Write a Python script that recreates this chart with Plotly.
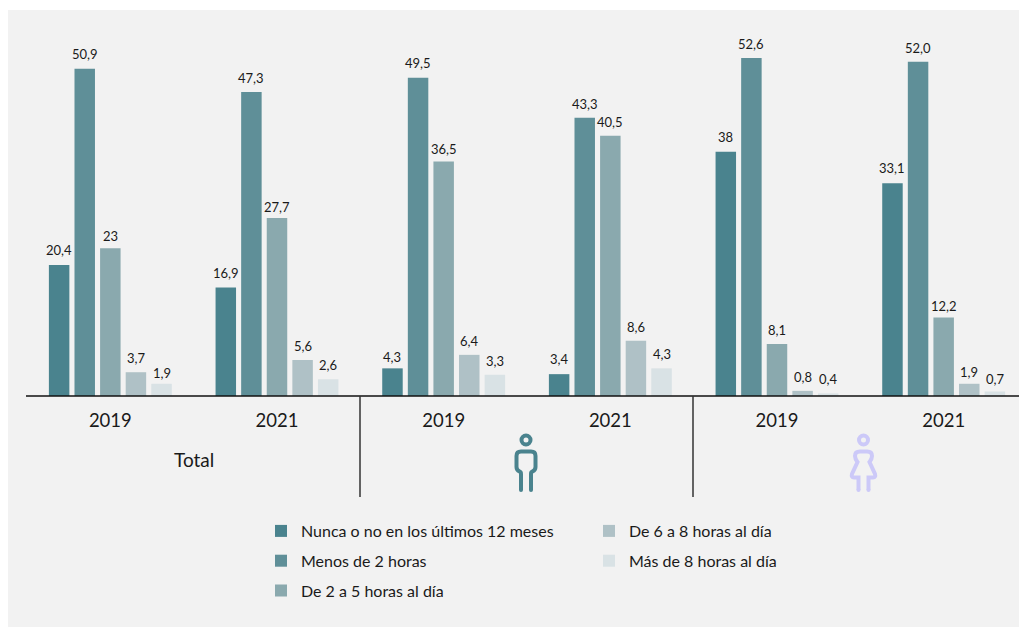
import plotly.graph_objects as go

groups = ["2019", "2021", "2019", "2021", "2019", "2021"]
series_names = ["Nunca o no en los últimos 12 meses", "Menos de 2 horas", "De 2 a 5 horas al día",
                "De 6 a 8 horas al día", "Más de 8 horas al día"]
nunca = [20.4, 16.9, 4.3, 3.4, 38, 33.1]
menos2 = [50.9, 47.3, 49.5, 43.3, 52.6, 52.0]
de2a5 = [23, 27.7, 36.5, 40.5, 8.1, 12.2]
de6a8 = [3.7, 5.6, 6.4, 8.6, 0.8, 1.9]
mas8 = [1.9, 2.6, 3.3, 4.3, 0.4, 0.7]
nunca_txt = ["20,4", "16,9", "4,3", "3,4", "38", "33,1"]
menos2_txt = ["50,9", "47,3", "49,5", "43,3", "52,6", "52,0"]
de2a5_txt = ["23", "27,7", "36,5", "40,5", "8,1", "12,2"]
de6a8_txt = ["3,7", "5,6", "6,4", "8,6", "0,8", "1,9"]
mas8_txt = ["1,9", "2,6", "3,3", "4,3", "0,4", "0,7"]
colors = ["#4a838e", "#5f8f98", "#8aa9ae", "#afc1c6", "#d9e2e5"]

OFF = 8  # the page body offsets the figure by this many pixels
W, H = 1027 - OFF, 627 - OFF
L, R, T, B = 27, 1027, 20, 396  # plot area, in page pixels
FONT = "Lato, Carlito, sans-serif"
INK = "#1a1a1a"
BARGAP = 0.232
# small per-label vertical adjustments (pixels, positive = lower), one row per series
label_nudge = [
    [-1, 0, 3, -1, -1, -1],
    [-1, 0, -1, 0, 0, 0],
    [2, 3, 2, 0, 0, 2],
    [0, 0, 0, 0, 0, 2],
    [3, 0, 0, 0, 0, 1],
]


def px(x):
    return (x - L) / (R - L)


def py(y):
    return (B - y) / (B - T)


def pth(*parts):
    out = []
    for p in parts:
        if isinstance(p, str):
            out.append(p)
        else:
            out.append(f"{px(p[0]):.5f},{py(p[1]):.5f}")
    return " ".join(out)


x_pos = list(range(len(groups)))
fig = go.Figure()
all_vals = [nunca, menos2, de2a5, de6a8, mas8]
all_txt = [nunca_txt, menos2_txt, de2a5_txt, de6a8_txt, mas8_txt]
legends = ["legend", "legend", "legend", "legend2", "legend2"]
pitch = (1 - BARGAP) / len(all_vals)
annotations = [dict(text="Total", xref="paper", yref="paper", x=px(194), y=py(459.5), xanchor="center",
                    yanchor="middle", showarrow=False, font=dict(family=FONT, size=19, color=INK))]
for j, (name, vals, txt, col, lg, nudge) in enumerate(zip(series_names, all_vals, all_txt, colors, legends, label_nudge)):
    fig.add_trace(go.Bar(
        x=x_pos, y=vals, name=name, marker=dict(color=col, line=dict(width=0)),
        legend=lg, legendgroup=name, hoverinfo="skip",
    ))
    for xi, v, t, n in zip(x_pos, vals, txt, nudge):
        annotations.append(dict(text=t, x=xi + (j - 2) * pitch, y=v, xref="x", yref="y", xanchor="center",
                                yanchor="bottom", yshift=4 - n, showarrow=False,
                                font=dict(family=FONT, size=13, color=INK)))

shapes = [
    dict(type="rect", xref="paper", yref="paper", x0=px(OFF), x1=px(1027), y0=py(627), y1=py(10),
         fillcolor="#f2f2f2", line_width=0, layer="below"),
    dict(type="line", xref="paper", yref="paper", x0=px(26), x1=px(1026), y0=py(396), y1=py(396),
         line=dict(color="#111111", width=1.5)),
]
for xv in (360, 693):
    shapes.append(dict(type="line", xref="paper", yref="paper", x0=px(xv), x1=px(xv), y0=py(396), y1=py(497),
                       line=dict(color="#333333", width=1.5)))

man = "#4a838e"
woman = "#ccc9f8"
icon_line = lambda c: dict(color=c, width=4)
# man icon
shapes.append(dict(type="circle", xref="paper", yref="paper", x0=px(521.5), x1=px(530.5), y0=py(444.5), y1=py(435.5),
                   line=icon_line(man), fillcolor="rgba(0,0,0,0)"))
shapes.append(dict(type="path", xref="paper", yref="paper", line=icon_line(man), path=pth(
    "M", (521, 490), "L", (521, 474), "Q", (521, 472), (519.5, 471.5), "Q", (516.5, 470), (516.5, 467),
    "L", (516.5, 456), "Q", (516.5, 451.5), (521, 451.5), "L", (531, 451.5), "Q", (535.5, 451.5), (535.5, 456),
    "L", (535.5, 467), "Q", (535.5, 470), (532.5, 471.5), "Q", (531, 472), (531, 474), "L", (531, 490))))
# woman icon
shapes.append(dict(type="circle", xref="paper", yref="paper", x0=px(859), x1=px(868), y0=py(444.5), y1=py(435.5),
                   line=icon_line(woman), fillcolor="rgba(0,0,0,0)"))
shapes.append(dict(type="path", xref="paper", yref="paper", line=icon_line(woman), path=pth(
    "M", (858.5, 490), "L", (858.5, 477.5), "L", (854, 477.5), "Q", (851, 477.5), (852, 474),
    "L", (857.5, 462), "Q", (855, 459), (855, 456), "Q", (855, 451.5), (860, 451.5), "L", (867, 451.5),
    "Q", (872, 451.5), (872, 456), "Q", (872, 459), (869.5, 462), "L", (875, 474),
    "Q", (876, 477.5), (873, 477.5), "L", (868.5, 477.5), "L", (868.5, 490))))
for cx, c in ((521, man), (531, man), (858.5, woman), (868.5, woman)):
    shapes.append(dict(type="circle", xref="paper", yref="paper", x0=px(cx - 2), x1=px(cx + 2),
                       y0=py(492), y1=py(488), fillcolor=c, line_width=0))

legend_common = dict(font=dict(family=FONT, size=16, color=INK), bgcolor="rgba(0,0,0,0)", xanchor="left",
                     yanchor="top", traceorder="grouped", tracegroupgap=6, itemclick=False, itemdoubleclick=False)
fig.update_layout(
    width=W, height=H, autosize=False, margin=dict(l=L - OFF, r=W - (R - OFF), t=T - OFF, b=H - (B - OFF)),
    paper_bgcolor="#ffffff", plot_bgcolor="rgba(0,0,0,0)", barmode="group", bargap=BARGAP, bargroupgap=0.2,
    showlegend=True, shapes=shapes, annotations=annotations,
    legend=dict(x=px(261), y=py(514), **legend_common),
    legend2=dict(x=px(589), y=py(514), **legend_common),
    xaxis=dict(range=[-0.5, 5.5], tickmode="array", tickvals=x_pos, ticktext=groups, showgrid=False, zeroline=False,
               showline=False, ticks="outside", ticklen=8, tickcolor="rgba(0,0,0,0)",
               tickfont=dict(family=FONT, size=18.5, color=INK), fixedrange=True),
    yaxis=dict(range=[0, 58.5], visible=False, fixedrange=True),
)
fig.write_html("out.html")
